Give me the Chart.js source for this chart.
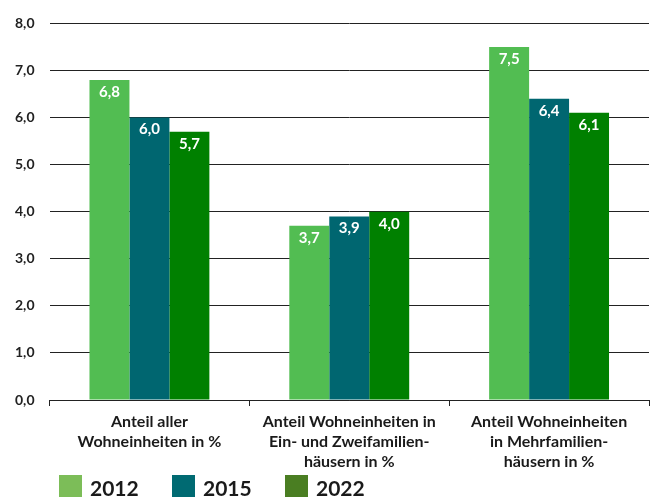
<!DOCTYPE html>
<html>
<head>
<meta charset="utf-8">
<script src="https://cdn.jsdelivr.net/npm/chart.js@4.4.0/dist/chart.umd.min.js"></script>
<style>
  html, body { margin: 0; padding: 0; background: #fff; }
  #wrap { width: 651px; height: 497px; }
</style>
</head>
<body>
<div id="wrap"><canvas id="chart" width="651" height="497"></canvas></div>
<script>
// data
const categories = [
  ['Anteil aller', 'Wohneinheiten in %'],
  ['Anteil Wohneinheiten in', 'Ein- und Zweifamilien-', 'häusern in %'],
  ['Anteil Wohneinheiten', 'in Mehrfamilien-', 'häusern in %']
];
const years = ['2012', '2015', '2022'];
const values2012 = [6.8, 3.7, 7.5];
const values2015 = [6.0, 3.9, 6.4];
const values2022 = [5.7, 4.0, 6.1];
const yTicks = [0, 1, 2, 3, 4, 5, 6, 7, 8];

const barColors = ['#52bd52', '#006670', '#008000'];
const legendColors = ['#7cbd58', '#006a72', '#4a7e22'];
const fontFamily = 'Lato, "Noto Sans", sans-serif';

const fmt = v => v.toFixed(1).replace('.', ',');

// white value labels inside the top of each bar
const valueLabels = {
  id: 'valueLabels',
  afterDatasetsDraw(chart) {
    const ctx = chart.ctx;
    ctx.save();
    ctx.fillStyle = '#ffffff';
    ctx.font = 'bold 15px ' + fontFamily;
    ctx.textAlign = 'center';
    ctx.textBaseline = 'middle';
    chart.data.datasets.forEach((ds, i) => {
      chart.getDatasetMeta(i).data.forEach((bar, j) => {
        ctx.fillText(fmt(ds.data[j]), bar.x, bar.y + 12);
      });
    });
    ctx.restore();
  }
};

// legend at the bottom left, as in the original
const bottomLegend = {
  id: 'bottomLegend',
  afterDraw(chart) {
    const ctx = chart.ctx;
    ctx.save();
    ctx.font = 'bold 21px ' + fontFamily;
    ctx.textBaseline = 'middle';
    ctx.textAlign = 'left';
    let x = 59;
    const y = 475;
    chart.data.datasets.forEach((ds, i) => {
      ctx.fillStyle = legendColors[i];
      ctx.fillRect(x, y, 23, 23);
      ctx.fillStyle = '#1a1a1a';
      ctx.fillText(ds.label, x + 31, y + 14);
      x += 113;
    });
    ctx.restore();
  }
};

new Chart(document.getElementById('chart'), {
  type: 'bar',
  data: {
    labels: categories,
    datasets: [
      { label: years[0], data: values2012, backgroundColor: barColors[0] },
      { label: years[1], data: values2015, backgroundColor: barColors[1] },
      { label: years[2], data: values2022, backgroundColor: barColors[2] }
    ]
  },
  options: {
    responsive: false,
    animation: false,
    layout: { padding: { top: 21, right: 2, bottom: 19, left: 0 } },
    datasets: { bar: { categoryPercentage: 0.6, barPercentage: 1.0 } },
    plugins: {
      legend: { display: false },
      tooltip: { enabled: false }
    },
    scales: {
      x: {
        grid: { drawOnChartArea: false, drawTicks: true, tickLength: 6, color: '#222' },
        border: { display: true, color: '#222', width: 1 },
        ticks: {
          color: '#1a1a1a',
          font: { family: fontFamily, size: 16, weight: 'bold', lineHeight: '20px' },
          padding: 6,
          maxRotation: 0
        }
      },
      y: {
        min: 0,
        max: 8,
        afterBuildTicks(axis) { axis.ticks = yTicks.map(v => ({ value: v })); },
        grid: { color: '#222', drawTicks: false },
        border: { display: false },
        ticks: {
          color: '#222',
          font: { family: fontFamily, size: 14, weight: 'bold' },
          padding: 15,
          callback: v => fmt(v)
        }
      }
    }
  },
  plugins: [valueLabels, bottomLegend]
});
</script>
</body>
</html>
